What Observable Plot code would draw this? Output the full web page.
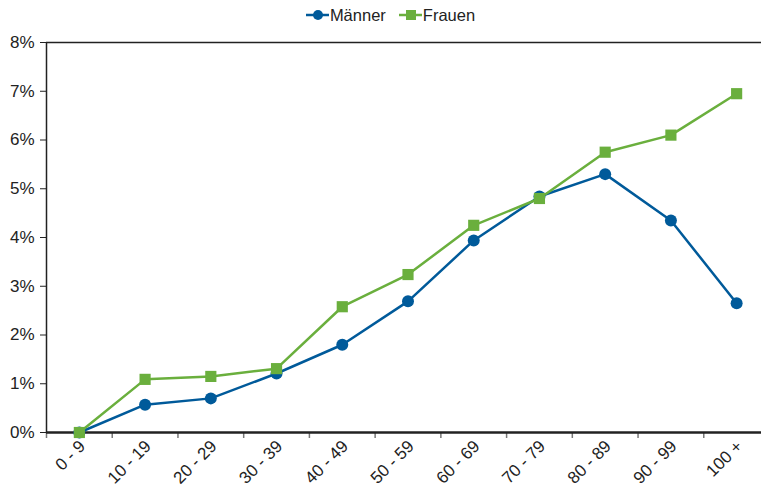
<!DOCTYPE html>
<html><head><meta charset="utf-8">
<script src="https://cdn.jsdelivr.net/npm/d3@7"></script>
<script src="https://cdn.jsdelivr.net/npm/@observablehq/plot@0.6"></script>
<style>
body{margin:0;background:#fff;font-family:"Liberation Sans",Arial,sans-serif;overflow:hidden;}
#legend{height:30px;display:flex;justify-content:center;align-items:center;gap:13px;font-size:16.5px;color:#222;padding-left:20px;}
.item{display:flex;align-items:center;gap:1px;}
</style></head>
<body>
<div id="legend"></div>
<div id="chart"></div>
<script>
const categories = ["0 - 9","10 - 19","20 - 29","30 - 39","40 - 49","50 - 59","60 - 69","70 - 79","80 - 89","90 - 99","100 +"];
const maenner = [0.0000,0.0057,0.0070,0.0121,0.0180,0.0269,0.0394,0.0484,0.0530,0.0435,0.0265];
const frauen  = [0.0000,0.0109,0.0115,0.0131,0.0258,0.0324,0.0425,0.0480,0.0575,0.0610,0.0695];
const seriesNames = ["Männer","Frauen"];
const colors = ["#005a9a","#6aaf3d"];
const symbols = ["circle","square"];
const yTicks = [0,0.01,0.02,0.03,0.04,0.05,0.06,0.07,0.08];

const data = [];
categories.forEach((c,i)=>{
  data.push({i: i+0.5, cat:c, v: maenner[i], s: seriesNames[0]});
  data.push({i: i+0.5, cat:c, v: frauen[i], s: seriesNames[1]});
});

const W = 761, H = 458;
const chart = Plot.plot({
  width: W, height: H,
  marginTop: 12, marginBottom: 56, marginLeft: 46, marginRight: -8,
  style:{fontFamily:'"Liberation Sans",Arial,sans-serif', fontSize:"17px", color:"#222", overflow:"visible"},
  x: {type:"linear", domain:[0, categories.length], range:[46, 769], label:null},
  y: {domain:[0,0.08], range:[402, 12], label:null},
  color: {domain: seriesNames, range: colors},
  symbol: {domain: seriesNames, range: symbols},
  marks: [
    Plot.ruleY([0.08], {stroke:"#222", strokeWidth:1.5}),
    Plot.axisX(d3.range(categories.length+1), {tickSize:6, tickFormat:()=>"", stroke:"#777", strokeWidth:1.5, label:null}),
    Plot.axisX(d3.range(categories.length).map(i=>i+0.5), {tickSize:0, tickPadding:11, dx:3, tickRotate:-45, tickFormat: d=>categories[Math.floor(d)], fontSize:17, fill:"#222", label:null}),
    Plot.axisY(yTicks, {tickFormat: d=>Math.round(d*100)+"%", tickSize:6, tickPadding:6, fontSize:17, stroke:"#222", fill:"#222", label:null}),
    Plot.ruleX([0], {stroke:"#222", strokeWidth:1.5}),
    Plot.ruleY([0], {stroke:"#222", strokeWidth:2.5}),
    Plot.line(data, {x:"i", y:"v", stroke:"s", strokeWidth:2.5}),
    Plot.dot(data.filter(d=>d.s==="Männer"), {x:"i", y:"v", fill:"s", r:6, symbol:"s", stroke:"none"}),
    Plot.dot(data.filter(d=>d.s==="Frauen"), {x:"i", y:"v", fill:"s", r:6.3, symbol:"s", stroke:"none"})
  ]
});
document.getElementById("chart").appendChild(chart);

const leg = document.getElementById("legend");
seriesNames.forEach((n,k)=>{
  const it = document.createElement("div"); it.className="item";
  const marker = k===0
    ? `<svg width="23" height="12"><line x1="0" y1="6" x2="23" y2="6" stroke="${colors[k]}" stroke-width="2.5"/><circle cx="12" cy="6" r="5" fill="${colors[k]}"/></svg>`
    : `<svg width="23" height="12"><line x1="0" y1="6" x2="23" y2="6" stroke="${colors[k]}" stroke-width="2.5"/><rect x="7" y="1" width="10" height="10" fill="${colors[k]}"/></svg>`;
  it.innerHTML = marker + `<span>${n}</span>`;
  leg.appendChild(it);
});
</script>
</body></html>
